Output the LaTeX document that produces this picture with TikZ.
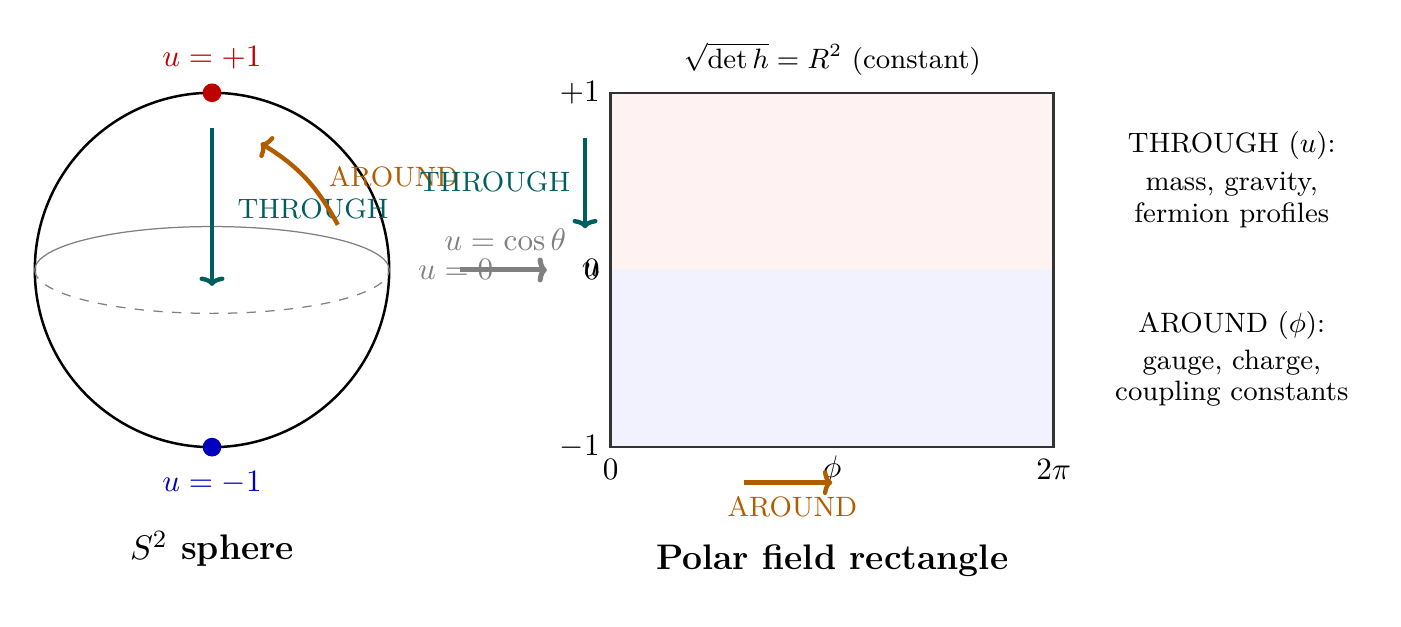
\documentclass[tikz,border=0pt]{standalone}
\usetikzlibrary{arrows.meta}
\definecolor{teal1}{RGB}{0,94,94}
\definecolor{orng}{RGB}{178,92,0}
\definecolor{rd}{RGB}{190,0,0}
\definecolor{bl}{RGB}{0,0,190}
\tikzset{
  thr/.style={teal1, line width=1.4pt, -{To[length=3pt,width=8pt]}},
  aro/.style={orng, line width=1.4pt, -{To[length=3pt,width=8pt]}},
  lbl/.style={font=\small},
  ttl/.style={font=\fontsize{11.4}{13}\selectfont\bfseries},
}
\begin{document}
\begin{tikzpicture}
\useasboundingbox (-2.393,-4.023) rectangle (13.42,3.047);
% sphere
\node[circle, minimum size=4cm, draw, thick, inner sep=0] (S) at (0,0) {};
\draw[gray] (2,0) arc[start angle=0,end angle=180,x radius=2,y radius=0.49];
\draw[gray,dashed] (-2,0) arc[start angle=180,end angle=360,x radius=2,y radius=0.49];
\node[circle, fill=rd, inner sep=0, minimum size=6pt] (N) at (0,2) {};
\node[circle, fill=bl, inner sep=0, minimum size=6pt] (Sp) at (0,-2) {};
\node[rd] (ln) at (0,2.4) {$u=+1$};
\node[bl] (ls) at (0,-2.4) {$u=-1$};
\node[ttl] (st) at (0,-3.15) {$S^2$ sphere};
\coordinate (t1) at (0,1.6); \coordinate (t2) at (0,-0.18);
\draw[thr] (t1) -- (t2);
\node[lbl,teal1] (thl) at (1.14,0.69) {THROUGH};
\coordinate (a1) at (1.42,0.51); \coordinate (a2) at (0.55,1.43);
\draw[aro] (a1) to[bend right=15] (a2);
\node[lbl,orng] (arl) at (2.05,1.05) {AROUND};
% map
\node[gray] (u0) at (2.75,0) {$u=0$};
\coordinate (m1) at (2.8,0); \coordinate (m2) at (3.78,0);
\draw[gray, line width=1.6pt, -{To[length=3pt,width=8pt]}] (m1) -- (m2);
\node[gray] (uc) at (3.31,0.34) {$u=\cos\theta$};
% rectangle
\fill[red!5] (4.5,0) rectangle (9.5,2);
\fill[blue!5] (4.5,-2) rectangle (9.5,0);
\draw[thick, black!80] (4.5,-2) rectangle (9.5,2);
\node[anchor=east] (p1) at (4.5,2) {$+1$};
\node[anchor=east] (p0) at (4.5,0) {$0$};
\node[anchor=east] (pu) at (4.5,0) {$u$};
\node[anchor=east] (m1l) at (4.5,-2) {$-1$};
\node (x0) at (4.5,-2.25) {$0$};
\node (x2) at (9.5,-2.25) {$2\pi$};
\node (xp) at (7.0,-2.25) {$\phi$};
\node[font=\small] (tt) at (7,2.38) {$\sqrt{\det h}=R^2$ (constant)};
\node[ttl] (rt) at (7,-3.28) {Polar field rectangle};
\coordinate (b1) at (6.0,-2.4); \coordinate (b2) at (7.0,-2.4);
\draw[aro] (b1) -- (b2);
\node[lbl,orng] (bl2) at (6.55,-2.67) {AROUND};
\coordinate (r1) at (4.21,1.49); \coordinate (r2) at (4.21,0.47);
\draw[thr] (r1) -- (r2);
\node[lbl,teal1] (rl) at (3.19,0.99) {THROUGH};
% right text
\node[lbl] (q1) at (11.51,1.4) {THROUGH ($u$):};
\node[lbl] (q2) at (11.51,0.97) {mass, gravity,};
\node[lbl] (q3) at (11.51,0.62) {fermion profiles};
\node[lbl] (q4) at (11.51,-0.63) {AROUND ($\phi$):};
\node[lbl] (q5) at (11.51,-1.05) {gauge, charge,};
\node[lbl] (q6) at (11.51,-1.4) {coupling constants};
\end{tikzpicture}
\end{document}
